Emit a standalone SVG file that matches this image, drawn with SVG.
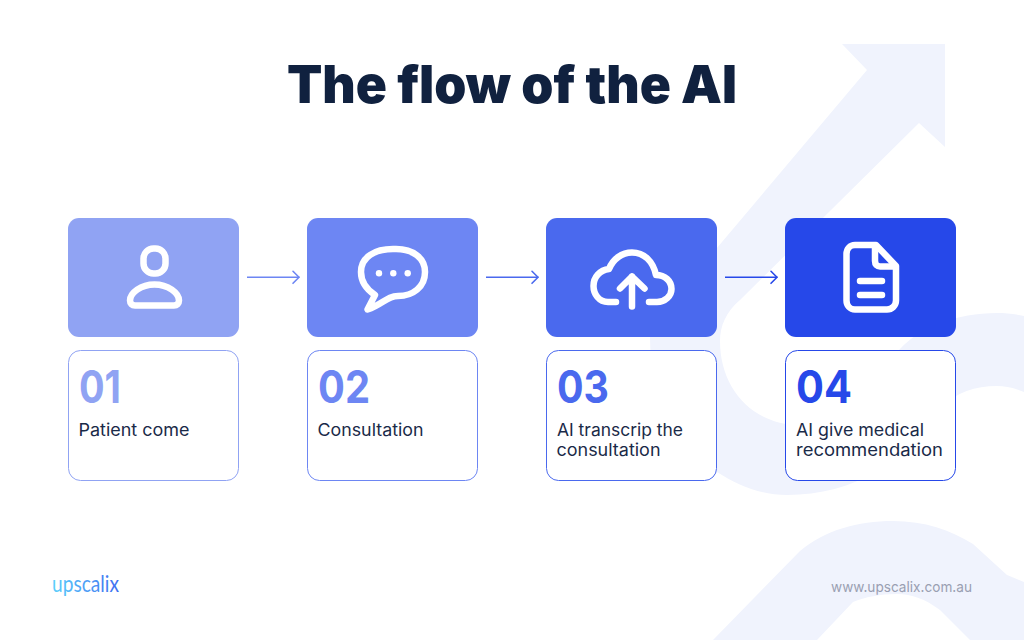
<svg xmlns="http://www.w3.org/2000/svg" width="1024" height="640" viewBox="0 0 1024 640">
<style>
.title{font:900 52px Inter,"Liberation Sans",sans-serif;fill:#10213f}
.num{font:700 45px Inter,"Liberation Sans",sans-serif}
.lab{font:400 17px Inter,"Liberation Sans",sans-serif;fill:#1a2a48}
.foot{font:400 14.500px Inter,"Liberation Sans",sans-serif;fill:#9a9fb2}
.logo{font:400 23px Lato,"Liberation Sans",sans-serif;fill:url(#lg)}
.ic{fill:none;stroke:#fff;stroke-width:6.500;stroke-linecap:round;stroke-linejoin:round}
.conn{fill:none;stroke-width:1.600}
.mk{fill:none;stroke-width:1.600;stroke-linecap:round;stroke-linejoin:round}
.bg{fill:#f0f3fd}
</style>
<defs>
<linearGradient id="lg" x1="0" x2="1" y1="0" y2="0"><stop offset="0" stop-color="#5cd0fb"/><stop offset="1" stop-color="#3f6df0"/></linearGradient>
<marker id="a1" markerUnits="userSpaceOnUse" markerWidth="12" markerHeight="18" refX="9" refY="9" orient="auto"><path class="mk" stroke="#6d86f3" d="M2.500 3L8.500 9L2.500 15"/></marker>
<marker id="a2" markerUnits="userSpaceOnUse" markerWidth="12" markerHeight="18" refX="9" refY="9" orient="auto"><path class="mk" stroke="#4a69ee" d="M2.500 3L8.500 9L2.500 15"/></marker>
<marker id="a3" markerUnits="userSpaceOnUse" markerWidth="12" markerHeight="18" refX="9" refY="9" orient="auto"><path class="mk" stroke="#2648e9" d="M2.500 3L8.500 9L2.500 15"/></marker>
</defs>
<rect width="1024" height="640" fill="#fff"/>
<g id="background">
<path class="bg" d="M842 44H945V147L919 123L740 300C726 312 720 326 720 341C720 388 752 425 800 425C835 425 868 384 900 349C920 327 957 313 997 313C1006 313 1016 314 1024 316V392C1015 388 1006 386 997 386C975 386 957 392 940 408L880 470C850 487 820 495 787 495C760 495 737 485 717 472C675 445 650 395 650 337L652 325L867 70Z"/>
<path class="bg" d="M713 640L800 551C825 530 858 521 893 521C925 521 950 530 973 544L1007 575L1024 582V640H970L940 610C925 599 912 594 897 594C880 594 865 597 853 602L817 640Z"/>
</g>
<text id="title" class="title" x="287" y="103" textLength="450" lengthAdjust="spacingAndGlyphs">The flow of the AI</text>
<g id="connectors">
<path class="conn" stroke="#6d86f3" marker-end="url(#a1)" d="M247 277.300H299.500"/>
<path class="conn" stroke="#4a69ee" marker-end="url(#a2)" d="M486 277.300H538.500"/>
<path class="conn" stroke="#2648e9" marker-end="url(#a3)" d="M725 277.300H777.500"/>
</g>
<g id="node1">
<rect x="68" y="218" width="171" height="119" rx="11" fill="#90a3f3"/>
<rect x="143.500" y="248.500" width="22" height="25" rx="10" class="ic"/>
<path class="ic" d="M154.500 284.500C168 284.500 179 293 179 300.500C179 303.500 177 305.500 174 305.500H135C132 305.500 130 303.500 130 300.500C130 293 141 284.500 154.500 284.500Z"/>
<rect x="68.500" y="350.500" width="170" height="130" rx="12" fill="#fff" stroke="#90a3f3"/>
<text class="num" x="79" y="403" fill="#90a3f3" textLength="42" lengthAdjust="spacingAndGlyphs">01</text>
<text class="lab" x="78.500" y="436" textLength="111" lengthAdjust="spacingAndGlyphs">Patient come</text>
</g>
<g id="node2">
<rect x="307" y="218" width="171" height="119" rx="11" fill="#6d86f3"/>
<path class="ic" d="M375 295C366 289 361 281 361 272C361 257 375 249 393 249H396C413 249 425 258 425 272C425 287 413 296 398 296C387 296 383 304 367.500 309.500Z"/>
<g fill="#fff"><circle cx="379" cy="273.300" r="3.200"/><circle cx="393.300" cy="273.300" r="3.200"/><circle cx="407.700" cy="273.300" r="3.200"/></g>
<rect x="307.500" y="350.500" width="170" height="130" rx="12" fill="#fff" stroke="#6d86f3"/>
<text class="num" x="318" y="403" fill="#6d86f3" textLength="52" lengthAdjust="spacingAndGlyphs">02</text>
<text class="lab" x="317.500" y="436" textLength="106" lengthAdjust="spacingAndGlyphs">Consultation</text>
</g>
<g id="node3">
<rect x="546" y="218" width="171" height="119" rx="11" fill="#4a69ee"/>
<path class="ic" d="M616 302H608C599 302 593.500 294 593.500 286C593.500 277 600 270 609 269C613 259 622 252.500 632 252.500C644 252.500 653 261 656 275C665 275 671.500 281 671.500 289C671.500 296 665 302 657 302H649"/>
<path class="ic" d="M632 306.500V276.500M620 288.500L632 276.500L644.500 288.500"/>
<rect x="546.500" y="350.500" width="170" height="130" rx="12" fill="#fff" stroke="#4a69ee"/>
<text class="num" x="557" y="403" fill="#4a69ee" textLength="52" lengthAdjust="spacingAndGlyphs">03</text>
<text class="lab" x="557" y="436" textLength="126" lengthAdjust="spacingAndGlyphs">AI transcrip the</text>
<text class="lab" x="556.500" y="456" textLength="104" lengthAdjust="spacingAndGlyphs">consultation</text>
</g>
<g id="node4">
<rect x="785" y="218" width="171" height="119" rx="11" fill="#2648e9"/>
<path class="ic" d="M855 245H876L896 266V300.500C896 305.500 892 309.500 887 309.500H855C850 309.500 846.500 305.500 846.500 300.500V254C846.500 249 850 245 855 245Z"/>
<path class="ic" d="M875 246V261C875 264.500 877 266.500 880 266.500H895"/>
<path class="ic" d="M860 281H882M860 295H882"/>
<rect x="785.500" y="350.500" width="170" height="130" rx="12" fill="#fff" stroke="#2648e9"/>
<text class="num" x="796" y="403" fill="#2648e9" textLength="56" lengthAdjust="spacingAndGlyphs">04</text>
<text class="lab" x="796" y="436" textLength="128" lengthAdjust="spacingAndGlyphs">AI give medical</text>
<text class="lab" x="796" y="456" textLength="147" lengthAdjust="spacingAndGlyphs">recommendation</text>
</g>
<g id="footer">
<text class="logo" x="52" y="592" textLength="67" lengthAdjust="spacingAndGlyphs">upscalix</text>
<text class="foot" x="831" y="592" textLength="141" lengthAdjust="spacingAndGlyphs">www.upscalix.com.au</text>
</g>
</svg>
